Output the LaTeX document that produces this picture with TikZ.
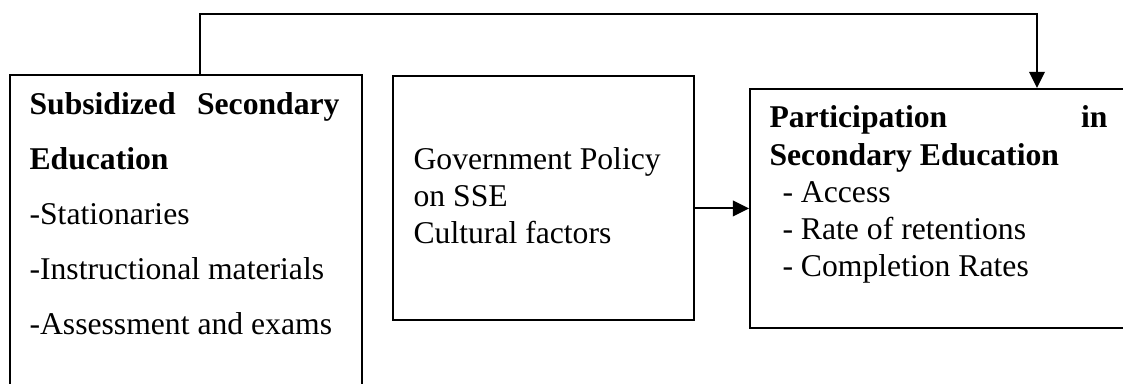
\documentclass[tikz,border=0pt]{standalone}
\usepackage{fontspec}
\setmainfont{Liberation Serif}
\usetikzlibrary{arrows.meta}
\newlength\px
\setlength\px{0.36pt}

\begin{document}
\begin{tikzpicture}[x=\px,y=-\px,
    panel/.style ={draw, line width=0.7pt, anchor=north west, inner sep=0pt},
    words/.style ={anchor=base west, inner sep=0pt},
    link/.style ={draw, line width=0.7pt, -{Triangle[length=5.8pt,width=5.6pt]}}]
   \useasboundingbox (0,0) rectangle (1123,384);
   \clip (0,0) rectangle (1123,384);

   \node[panel, minimum width=352\px, minimum height=340\px] (sse)  at (9,74)  {};
   \node[panel, minimum width=301\px, minimum height=244\px] (gov)  at (392,75)  {};
   \node[panel, minimum width=400\px, minimum height=239\px] (part) at (749,88)  {};

   \node[words] (ssetext) at (29,115) {\parbox[t]{310\px}{\fontsize{11.4}{19.8}\selectfont
      \makebox[\linewidth][s]{\bfseries Subsidized Secondary}\\
      \textbf{Education}\\
      -Stationaries\\
      -Instructional materials\\
      -Assessment and exams}};
   \node[words] (govtext) at (413,170) {\parbox[t]{270\px}{\fontsize{11.4}{13.3}\selectfont
      Government Policy\\
      on SSE\\
      Cultural factors}};
   \node[words] (parttext) at (769,128) {\parbox[t]{338\px}{\fontsize{11.4}{13.4}\selectfont
      \makebox[\linewidth][s]{\bfseries Participation in}\\
      \textbf{Secondary Education}\\
      \hspace*{13\px}- Access\\
      \hspace*{13\px}- Rate of retentions\\
      \hspace*{13\px}- Completion Rates}};

   \draw[link] (gov.east |- part.west) to (part.west);
   \draw[link] ([xshift=191\px]sse.north west) -- ++(0,-60) -| ([xshift=288\px]part.north west);
\end{tikzpicture}
\end{document}
